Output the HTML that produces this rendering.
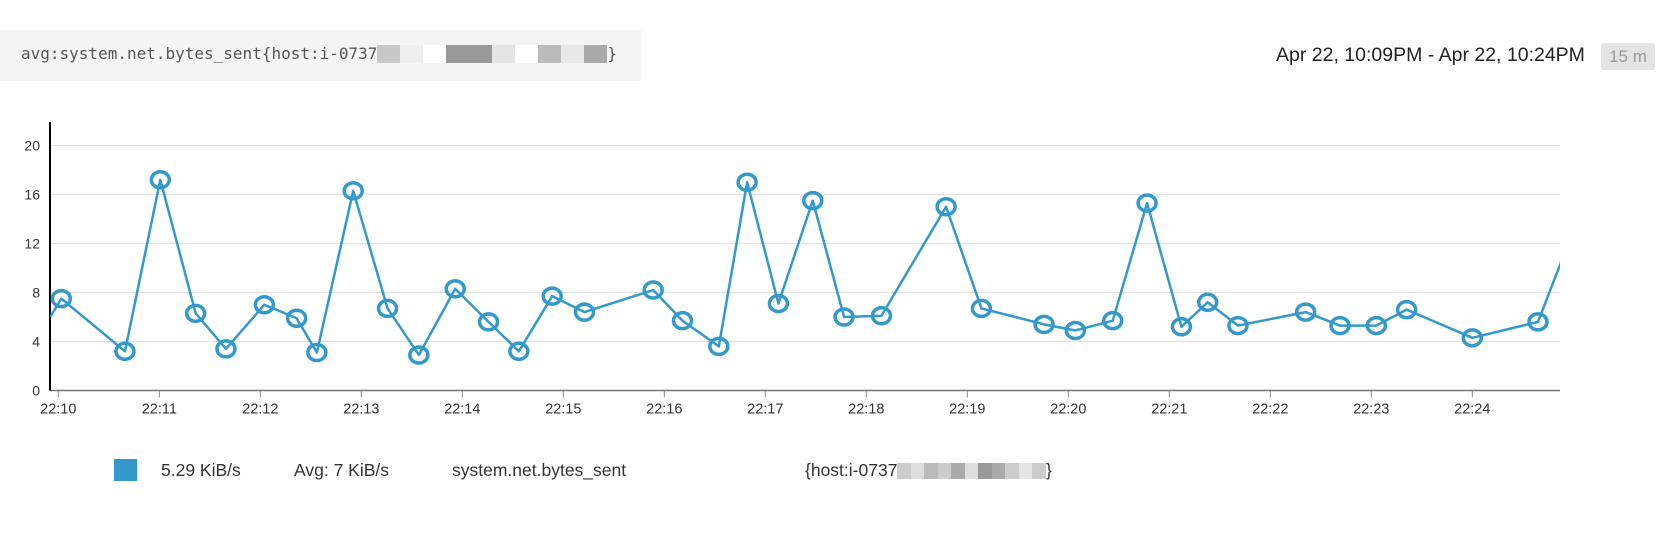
<!DOCTYPE html>
<html><head><meta charset="utf-8"><style>
body{margin:0;width:1670px;height:546px;background:#fff;overflow:hidden;font-family:"Liberation Sans","DejaVu Sans",sans-serif;position:relative}
.hdr{position:absolute;left:0;top:30px;width:641px;height:51px;background:#f4f4f4}
.q{position:absolute;left:21px;top:14px;font-family:"DejaVu Sans Mono","Liberation Mono",monospace;font-size:16px;color:#555;white-space:nowrap}
.px{display:inline-block;width:23px;height:18px;vertical-align:-4px}
.lp{display:inline-block;width:13.5px;height:16px;vertical-align:-3px}
.tr{position:absolute;left:1276px;top:44px;font-size:19.5px;color:#222;white-space:nowrap}
.badge{position:absolute;left:1601px;top:43px;width:54px;height:27px;background:#e4e4e4;border-radius:3px;color:#999;font-size:17px;text-align:center;line-height:27px}
.lg{position:absolute;top:460px;font-size:17.5px;color:#333;white-space:nowrap}
</style></head><body>
<div class="hdr"><div class="q">avg:system.net.bytes_sent{host:i-0737<span class="px" style="background:#c8c8c8"></span><span class="px" style="background:#eee"></span><span class="px" style="background:#fff"></span><span class="px" style="background:#999"></span><span class="px" style="background:#999"></span><span class="px" style="background:#e4e4e4"></span><span class="px" style="background:#fff"></span><span class="px" style="background:#bbb"></span><span class="px" style="background:#e8e8e8"></span><span class="px" style="background:#aaa"></span>}</div></div>
<div class="tr">Apr 22, 10:09PM - Apr 22, 10:24PM</div>
<div class="badge">15 m</div>
<svg id="chart" width="1670" height="546" style="position:absolute;left:0;top:0"></svg>
<div style="position:absolute;left:114px;top:459px;width:23px;height:22px;background:#3399cc"></div>
<div class="lg" style="left:161px">5.29 KiB/s</div>
<div class="lg" style="left:294px">Avg: 7 KiB/s</div>
<div class="lg" style="left:452px">system.net.bytes_sent</div>
<div class="lg" style="left:805px">{host:i-0737<span class="lp" style="background:#ccc"></span><span class="lp" style="background:#ddd"></span><span class="lp" style="background:#bbb"></span><span class="lp" style="background:#ccc"></span><span class="lp" style="background:#aaa"></span><span class="lp" style="background:#ddd"></span><span class="lp" style="background:#999"></span><span class="lp" style="background:#aaa"></span><span class="lp" style="background:#ccc"></span><span class="lp" style="background:#e4e4e4"></span><span class="lp" style="background:#ccc"></span>}</div>
<script>
const minutes=[-0.08,0.03,0.66,1.01,1.36,1.66,2.04,2.36,2.56,2.92,3.26,3.57,3.93,4.26,4.56,4.89,5.21,5.89,6.18,6.54,6.82,7.13,7.47,7.78,8.15,8.79,9.14,9.76,10.07,10.44,10.78,11.12,11.38,11.68,12.35,12.69,13.05,13.35,14.0,14.65,14.88];
const values=[6,7.5,3.2,17.2,6.3,3.4,7.0,5.9,3.1,16.3,6.7,2.9,8.3,5.6,3.2,7.7,6.4,8.2,5.7,3.6,17.0,7.1,15.5,6.0,6.1,15.0,6.7,5.4,4.9,5.7,15.3,5.2,7.2,5.3,6.4,5.3,5.3,6.6,4.3,5.6,10.5];
const yTicks=[0,4,8,12,16,20];
const xTickLabels=["22:10","22:11","22:12","22:13","22:14","22:15","22:16","22:17","22:18","22:19","22:20","22:21","22:22","22:23","22:24"];
const NS="http://www.w3.org/2000/svg",svg=document.getElementById('chart');
const L=50,R=1560,Y0=390.5;
const xs=m=>58.3+m*101, ys=v=>Y0-v*12.25;
function mk(t,a,p){const e=document.createElementNS(NS,t);for(const k in a)e.setAttribute(k,a[k]);(p||svg).appendChild(e);return e;}
yTicks.forEach(v=>{
 if(v>0){const g=mk('line',{x1:L,x2:R,y1:ys(v),y2:ys(v),stroke:'#e3e3e3'});
 
 }
 const t=mk('text',{x:L-10,y:ys(v)+5,'text-anchor':'end','font-size':14,fill:'#333','font-family':'Liberation Sans, sans-serif'});t.textContent=v;
 
 
});
xTickLabels.forEach((s,i)=>{
 const x=xs(i);
 mk('line',{x1:x,x2:x,y1:Y0,y2:Y0+7,stroke:'#888'});
 const t=mk('text',{x:x,y:Y0+23,'text-anchor':'middle','font-size':14.5,fill:'#333','font-family':'Liberation Sans, sans-serif'});t.textContent=s;
 
 
});
const xa=mk('line',{x1:L,x2:R,y1:Y0,y2:Y0,stroke:'#777','stroke-width':1.5});


const ya=mk('line',{x1:L,x2:L,y1:122,y2:Y0,stroke:'#000','stroke-width':2});


const cp=mk('clipPath',{id:'cp'});mk('rect',{x:L,y:100,width:R-L,height:300},cp);
const pts=minutes.map((m,i)=>xs(m)+','+ys(values[i])).join(' ');
const ln=mk('polyline',{points:pts,fill:'none',stroke:'#3399cc','stroke-width':2.5,'clip-path':'url(#cp)','stroke-linejoin':'round'});


minutes.forEach((m,i)=>{
 if(i===0||i===minutes.length-1)return;
 const c=mk('ellipse',{cx:xs(m),cy:ys(values[i]),rx:9,ry:8,fill:'none',stroke:'#3399cc','stroke-width':3.5});
 
 
});
</script>
</body></html>
